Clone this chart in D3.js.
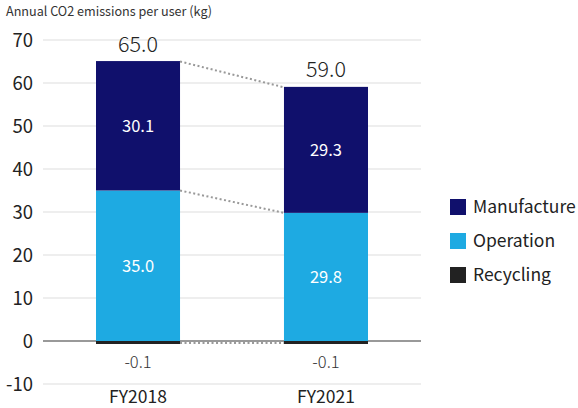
<!DOCTYPE html>
<html lang="en">
<head>
<meta charset="UTF-8">
<title>Annual CO2 emissions per user</title>
<script src="https://d3js.org/d3.v7.min.js"></script>
<style>
  body { margin: 0; background: #fff; }
  text { font-family: "Noto Sans CJK JP", "Noto Sans", sans-serif; }
</style>
</head>
<body>
<script>
// data
var years = ["FY2018", "FY2021"];
var manufacture = [30.1, 29.3];
var operation = [35.0, 29.8];
var recycling = [-0.1, -0.1];
var totals = [65.0, 59.0];
var yTicks = [-10, 0, 10, 20, 30, 40, 50, 60, 70];
var seriesNames = ["Manufacture", "Operation", "Recycling"];
var stackOrder = ["Operation", "Manufacture", "Recycling"];
var colors = { Manufacture: "#10106c", Operation: "#1eaae2", Recycling: "#222222" };

var width = 578, height = 408;
var svg = d3.select("body").append("svg")
    .attr("width", width)
    .attr("height", height);

var y = d3.scaleLinear().domain([-10, 70]).range([384, 40]);
var x = d3.scaleBand().domain(years).range([43, 421]).paddingInner(0.553).paddingOuter(0.282);

// title
svg.append("text")
    .attr("x", 6).attr("y", 16)
    .attr("font-size", 13)
    .attr("fill", "#333")
    .attr("textLength", 206)
    .attr("lengthAdjust", "spacingAndGlyphs")
    .text("Annual CO2 emissions per user (kg)");

// gridlines + tick labels
svg.append("g").selectAll("line")
    .data(yTicks)
    .enter().append("line")
    .attr("x1", 43).attr("x2", 421)
    .attr("y1", d => y(d)).attr("y2", d => y(d))
    .attr("stroke", d => d === 0 ? "#777" : "#ddd")
    .attr("stroke-width", d => d === 0 ? 1.5 : 1);

svg.append("g").selectAll("text")
    .data(yTicks)
    .enter().append("text")
    .attr("x", 33)
    .attr("y", d => y(d))
    .attr("dy", "0.36em")
    .attr("text-anchor", "end")
    .attr("font-size", 18.5)
    .attr("fill", "#222")
    .text(d => d);

// stacked bars (operation at the bottom, manufacture on top, recycling below zero)
var rows = years.map((yr, i) => ({ year: yr, Manufacture: manufacture[i], Operation: operation[i], Recycling: recycling[i] }));
var stacked = d3.stack().keys(stackOrder).offset(d3.stackOffsetDiverging)(rows);

var layers = svg.append("g").selectAll("g")
    .data(stacked)
    .enter().append("g")
    .attr("fill", d => colors[d.key]);

layers.selectAll("rect")
    .data(d => d)
    .enter().append("rect")
    .attr("x", d => x(d.data.year))
    .attr("width", x.bandwidth())
    .attr("y", d => y(Math.max(d[0], d[1])))
    .attr("height", d => Math.max(Math.abs(y(d[0]) - y(d[1])), 3));

// dotted connectors between bar tops/boundaries
var connLevels = [totals, operation, [0, 0]];
svg.append("g").selectAll("line")
    .data(connLevels)
    .enter().append("line")
    .attr("x1", x(years[0]) + x.bandwidth())
    .attr("x2", x(years[1]))
    .attr("y1", (d, i) => y(d[0]) + (i === 2 ? 2 : 0))
    .attr("y2", (d, i) => y(d[1]) + (i === 2 ? 2 : 0))
    .attr("stroke", "#999")
    .attr("stroke-width", 2)
    .attr("stroke-dasharray", "2,2.5");

// value labels
years.forEach((yr, i) => {
    var cx = x(yr) + x.bandwidth() / 2;
    svg.append("text")
        .attr("x", cx).attr("y", y(operation[i] + manufacture[i] / 2))
        .attr("dy", "0.36em").attr("text-anchor", "middle")
        .attr("font-size", 16.5).attr("fill", "#fff")
        .text(manufacture[i].toFixed(1));
    svg.append("text")
        .attr("x", cx).attr("y", y(operation[i] / 2))
        .attr("dy", "0.36em").attr("text-anchor", "middle")
        .attr("font-size", 16.5).attr("fill", "#fff")
        .text(operation[i].toFixed(1));
    svg.append("text")
        .attr("x", cx).attr("y", y(-5))
        .attr("dy", "0.36em").attr("text-anchor", "middle")
        .attr("font-size", 16.5).attr("font-weight", 300).attr("fill", "#333")
        .text(recycling[i].toFixed(1));
    svg.append("text")
        .attr("x", cx).attr("y", y(totals[i]) - 10)
        .attr("text-anchor", "middle")
        .attr("font-size", 21.5).attr("font-weight", 300).attr("fill", "#222")
        .text(totals[i].toFixed(1));
    svg.append("text")
        .attr("x", cx).attr("y", 403)
        .attr("text-anchor", "middle")
        .attr("font-size", 17.5).attr("fill", "#222")
        .text(yr);
});

// legend
var legend = svg.append("g").selectAll("g")
    .data(seriesNames)
    .enter().append("g")
    .attr("transform", (d, i) => "translate(450," + (199 + i * 34) + ")");

legend.append("rect")
    .attr("width", 16).attr("height", 16)
    .attr("fill", d => colors[d]);

legend.append("text")
    .attr("x", 23).attr("y", 8)
    .attr("dy", "0.36em")
    .attr("font-size", 17.5)
    .attr("fill", "#222")
    .text(d => d);
</script>
</body>
</html>
